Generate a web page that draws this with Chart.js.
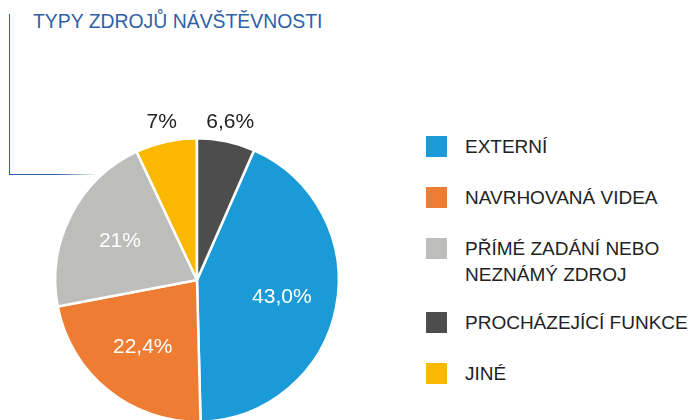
<!DOCTYPE html>
<html>
<head>
<meta charset="utf-8">
<script src="https://cdn.jsdelivr.net/npm/chart.js@4"></script>
<style>
  html, body { margin: 0; padding: 0; background: #fff; }
  body { width: 696px; height: 420px; overflow: hidden; position: relative;
         font-family: "Liberation Sans", Arial, sans-serif; }
  #title { position: absolute; left: 33px; top: 10px; font-size: 19.4px; line-height: 22px; color: #2f5fa8;
           white-space: nowrap; }
  #vline { position: absolute; left: 9px; top: 14px; width: 1px; height: 161px; background: #2f5fa8; }
  #hline { position: absolute; left: 9px; top: 174px; width: 88px; height: 1px;
           background: linear-gradient(to right, #2f5fa8 55%, rgba(47,95,168,0)); }
  #pieBox { position: absolute; left: 0; top: 83px; width: 394px; height: 394px; }
  #legend { position: absolute; left: 426px; top: 0; }
  .item { position: absolute; left: 0; white-space: nowrap; }
  .sw { position: absolute; left: 0; width: 21px; height: 21px; }
  .txt { position: absolute; left: 39px; font-size: 19px; color: #222; line-height: 26px; }
</style>
</head>
<body>
<div id="title">TYPY ZDROJŮ NÁVŠTĚVNOSTI</div>
<div id="vline"></div>
<div id="hline"></div>
<div id="pieBox"><canvas id="pie" width="394" height="394"></canvas></div>
<div id="legend"></div>
<script>
// slices in clockwise order, starting after the dark slice at 12 o'clock
const categories = ['EXTERNÍ', 'NAVRHOVANÁ VIDEA', 'PŘÍMÉ ZADÁNÍ NEBO NEZNÁMÝ ZDROJ', 'JINÉ', 'PROCHÁZEJÍCÍ FUNKCE'];
const values = [43.0, 22.4, 21, 7, 6.6];
const valueLabels = ['43,0%', '22,4%', '21%', '7%', '6,6%'];
const colors = ['#1a9bd7', '#ee7d33', '#bdbdbb', '#fbb800', '#4d4d4d'];
const legendLines = [['EXTERNÍ'], ['NAVRHOVANÁ VIDEA'], ['PŘÍMÉ ZADÁNÍ NEBO', 'NEZNÁMÝ ZDROJ'], ['JINÉ'], ['PROCHÁZEJÍCÍ FUNKCE']];
const legendOrder = [0, 1, 2, 4, 3];
const outsideLabels = [3, 4];

// legend
const legendTops = [136, 187, 238, 312, 363];
const legend = document.getElementById('legend');
legendOrder.forEach((idx, row) => {
  const item = document.createElement('div');
  item.className = 'item';
  item.style.top = legendTops[row] + 'px';
  const sw = document.createElement('div');
  sw.className = 'sw';
  sw.style.background = colors[idx];
  const txt = document.createElement('div');
  txt.className = 'txt';
  txt.style.top = '-2px';
  txt.innerHTML = legendLines[idx].join('<br>');
  item.appendChild(sw);
  item.appendChild(txt);
  legend.appendChild(item);
});

// percentage labels on the slices
const sliceLabels = {
  id: 'sliceLabels',
  afterDatasetsDraw(chart) {
    const ctx = chart.ctx;
    const meta = chart.getDatasetMeta(0);
    ctx.save();
    ctx.font = '21px "Liberation Sans", Arial, sans-serif';
    ctx.textAlign = 'center';
    ctx.textBaseline = 'middle';
    meta.data.forEach((arc, i) => {
      const p = arc.getProps(['x', 'y', 'startAngle', 'endAngle', 'outerRadius'], true);
      const mid = (p.startAngle + p.endAngle) / 2;
      const outside = outsideLabels.includes(i);
      const r = p.outerRadius * (outside ? 1.14 : 0.61);
      ctx.fillStyle = outside ? '#222' : '#fff';
      ctx.fillText(valueLabels[i], p.x + Math.cos(mid) * r, p.y + Math.sin(mid) * r);
    });
    ctx.restore();
  }
};

new Chart(document.getElementById('pie'), {
  type: 'pie',
  data: {
    labels: categories,
    datasets: [{
      data: values,
      backgroundColor: colors,
      borderColor: '#fff',
      borderWidth: 2.5
    }]
  },
  options: {
    responsive: false,
    animation: false,
    rotation: 6.6 / 100 * 360,
    layout: { padding: 54 },
    plugins: {
      legend: { display: false },
      tooltip: { enabled: false }
    }
  },
  plugins: [sliceLabels]
});
</script>
</body>
</html>
